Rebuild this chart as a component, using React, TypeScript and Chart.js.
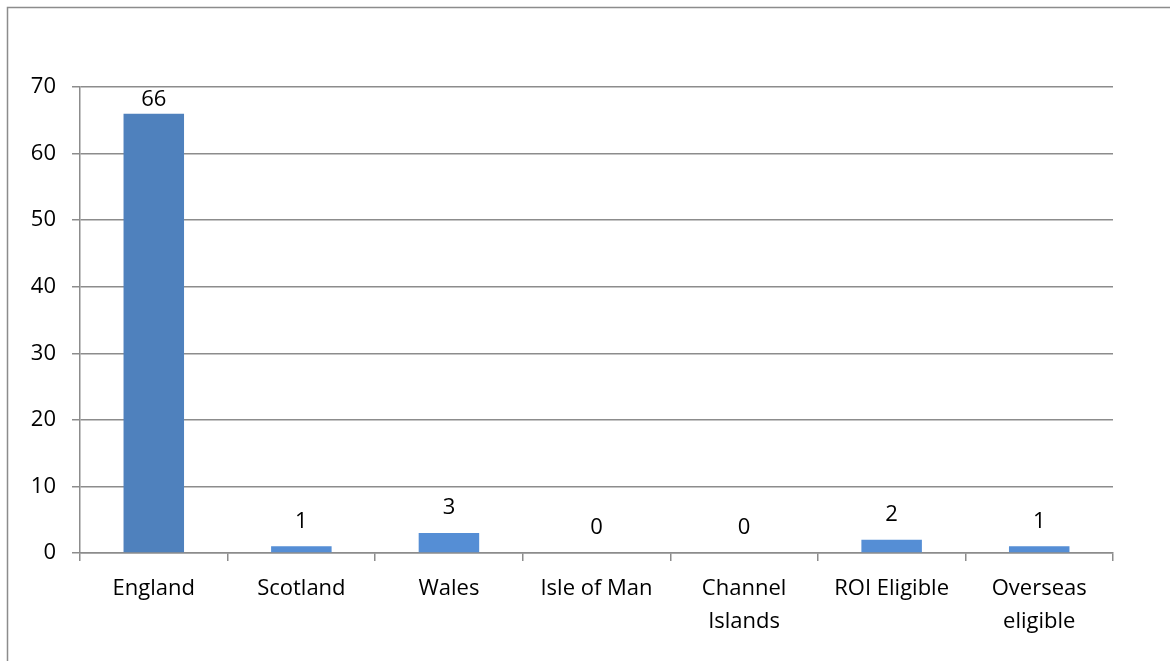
import React, { useEffect, useRef } from "react";
import { Chart, registerables } from "chart.js";

Chart.register(...registerables);

const categories: (string | string[])[] = [
  "England",
  "Scotland",
  "Wales",
  "Isle of Man",
  ["Channel", "Islands"],
  "ROI Eligible",
  ["Overseas", "eligible"],
];
const values: number[] = [66, 1, 3, 0, 0, 2, 1];
const barColors: string[] = ["#4F81BD", "#558ED5", "#558ED5", "#558ED5", "#558ED5", "#558ED5", "#558ED5"];
const yMin = 0;
const yMax = 70;
const yStep = 10;

const FONT = "'Open Sans', Lato, sans-serif";
const FSIZE = 22;

const framePlugin = {
  id: "frame",
  beforeDraw(chart: any) {
    const ctx = chart.ctx;
    ctx.save();
    ctx.strokeStyle = "#8c8c8c";
    ctx.lineWidth = 1.5;
    ctx.beginPath();
    ctx.moveTo(7.5, chart.height);
    ctx.lineTo(7.5, 7.5);
    ctx.lineTo(chart.width, 7.5);
    ctx.stroke();
    ctx.restore();
  },
};

const labelPlugin = {
  id: "valueLabels",
  afterDatasetsDraw(chart: any) {
    const ctx = chart.ctx;
    const meta = chart.getDatasetMeta(0);
    const area = chart.chartArea;
    ctx.save();
    ctx.fillStyle = "#000";
    ctx.font = `${FSIZE}px ${FONT}`;
    ctx.textAlign = "center";
    ctx.textBaseline = "middle";
    meta.data.forEach((bar: any, i: number) => {
      const y = Math.max(bar.y - 25, area.top + 13);
      ctx.fillText(String(values[i]), bar.x, y);
    });
    ctx.restore();
  },
};

export default function App() {
  const ref = useRef<HTMLCanvasElement>(null);
  useEffect(() => {
    if (!ref.current) return;
    const chart = new Chart(ref.current, {
      type: "bar",
      data: {
        labels: categories,
        datasets: [
          {
            data: values,
            backgroundColor: barColors,
            borderWidth: 0,
            barPercentage: 0.41,
            categoryPercentage: 1,
          },
        ],
      },
      options: {
        animation: false,
        responsive: false,
        maintainAspectRatio: false,
        layout: { padding: { top: 87, right: 57, left: 0, bottom: 0 } },
        plugins: {
          legend: { display: false },
          tooltip: { enabled: false },
        },
        scales: {
          x: {
            grid: {
              display: true,
              drawOnChartArea: false,
              offset: true,
              tickLength: 8,
              color: "#8c8c8c",
              lineWidth: 1.5,
            },
            border: { display: true, color: "#8c8c8c", width: 1.5 },
            ticks: {
              color: "#000",
              font: { family: FONT, size: FSIZE, lineHeight: 1.5 },
              padding: 11,
              maxRotation: 0,
              autoSkip: false,
            },
            afterFit(scale: any) {
              scale.height = 661 - 553;
            },
          },
          y: {
            min: yMin,
            max: yMax,
            ticks: {
              stepSize: yStep,
              color: "#000",
              font: { family: FONT, size: FSIZE },
              padding: 16,
            },
            grid: {
              color: "#8c8c8c",
              lineWidth: 1.5,
              tickLength: 8,
            },
            border: { display: true, color: "#8c8c8c", width: 1.5 },
            afterFit(scale: any) {
              scale.width = 80;
            },
          },
        },
      },
      plugins: [framePlugin, labelPlugin],
    });
    return () => chart.destroy();
  }, []);
  return (
    <div style={{ position: "fixed", left: 0, top: 0, width: 1170, height: 661, background: "#fff" }}>
      <canvas ref={ref} width={1170} height={661} style={{ display: "block" }} />
    </div>
  );
}
